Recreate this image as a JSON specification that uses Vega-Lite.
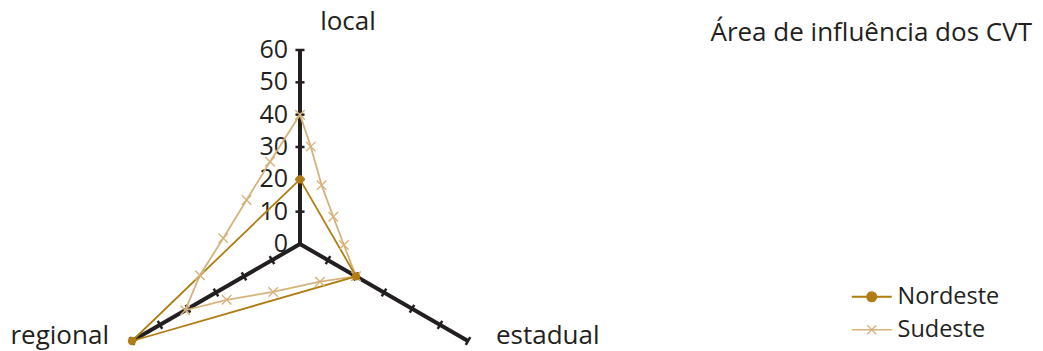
{
  "$schema": "https://vega.github.io/schema/vega-lite/v6.json",
  "width": 1043,
  "height": 351,
  "autosize": "none",
  "padding": 0,
  "background": "white",
  "config": {"view": {"stroke": null}, "font": "Open Sans"},
  "title": {
    "text": "Área de influência dos CVT",
    "anchor": "end",
    "orient": "top",
    "fontSize": 26,
    "fontWeight": "normal",
    "color": "#231f20",
    "font": "Open Sans",
    "offset": 0,
    "dx": -11,
    "dy": 67,
    "baseline": "alphabetic"
  },
  "datasets": {
    "eixos": [
      {"eixo": "local", "angulo": 90, "maximo": 60, "marcas": [10, 20, 30, 40, 50, 60]},
      {"eixo": "estadual", "angulo": -30, "maximo": 60, "marcas": [10, 20, 30, 40, 50, 60]},
      {"eixo": "regional", "angulo": 210, "maximo": 60, "marcas": [10, 20, 30, 40, 50, 60]}
    ],
    "escala": [
      {"valor": 0}, {"valor": 10}, {"valor": 20}, {"valor": 30}, {"valor": 40}, {"valor": 50}, {"valor": 60}
    ],
    "series": [
      {"serie": "Sudeste", "ordem": 1, "eixo": "local", "angulo": 90, "valor": 40},
      {"serie": "Sudeste", "ordem": 2, "eixo": null, "angulo": 83.7, "valor": 30.3},
      {"serie": "Sudeste", "ordem": 3, "eixo": null, "angulo": 69.8, "valor": 19.4},
      {"serie": "Sudeste", "ordem": 4, "eixo": null, "angulo": 39.2, "valor": 13.3},
      {"serie": "Sudeste", "ordem": 5, "eixo": null, "angulo": -1.3, "valor": 13.6},
      {"serie": "Sudeste", "ordem": 6, "eixo": "estadual", "angulo": -30, "valor": 20},
      {"serie": "Sudeste", "ordem": 7, "eixo": null, "angulo": -62.1, "valor": 13.2},
      {"serie": "Sudeste", "ordem": 8, "eixo": null, "angulo": -119.3, "valor": 17.0},
      {"serie": "Sudeste", "ordem": 9, "eixo": null, "angulo": -142.7, "valor": 28.5},
      {"serie": "Sudeste", "ordem": 10, "eixo": "regional", "angulo": 210, "valor": 41},
      {"serie": "Sudeste", "ordem": 11, "eixo": null, "angulo": 197.3, "valor": 32.4},
      {"serie": "Sudeste", "ordem": 12, "eixo": null, "angulo": 175.7, "valor": 23.8},
      {"serie": "Sudeste", "ordem": 13, "eixo": null, "angulo": 140.5, "valor": 21.4},
      {"serie": "Sudeste", "ordem": 14, "eixo": null, "angulo": 110.0, "valor": 27.1},
      {"serie": "Nordeste", "ordem": 1, "eixo": "local", "angulo": 90, "valor": 20},
      {"serie": "Nordeste", "ordem": 2, "eixo": "estadual", "angulo": -30, "valor": 20},
      {"serie": "Nordeste", "ordem": 3, "eixo": "regional", "angulo": 210, "valor": 60}
    ]
  },
  "encoding": {
    "x": {"field": "px", "type": "quantitative", "axis": null, "scale": {"domain": [-92.78, 229.8], "nice": false, "zero": false}},
    "y": {"field": "py", "type": "quantitative", "axis": null, "scale": {"domain": [-33.09, 75.46], "nice": false, "zero": false}}
  },
  "layer": [
    {
      "data": {"name": "eixos"},
      "transform": [
        {"calculate": "0", "as": "px"},
        {"calculate": "0", "as": "py"},
        {"calculate": "datum.maximo * cos(datum.angulo * PI / 180)", "as": "px2"},
        {"calculate": "datum.maximo * sin(datum.angulo * PI / 180)", "as": "py2"}
      ],
      "mark": {"type": "rule", "color": "#231f20", "strokeWidth": 4, "strokeCap": "butt"},
      "encoding": {"x2": {"field": "px2"}, "y2": {"field": "py2"}}
    },
    {
      "data": {"name": "eixos"},
      "transform": [
        {"flatten": ["marcas"], "as": ["valor"]},
        {"calculate": "datum.valor * cos(datum.angulo * PI / 180) - 1.4 * sin(datum.angulo * PI / 180)", "as": "px"},
        {"calculate": "datum.valor * sin(datum.angulo * PI / 180) + 1.4 * cos(datum.angulo * PI / 180)", "as": "py"},
        {"calculate": "datum.valor * cos(datum.angulo * PI / 180) + 1.4 * sin(datum.angulo * PI / 180)", "as": "px2"},
        {"calculate": "datum.valor * sin(datum.angulo * PI / 180) - 1.4 * cos(datum.angulo * PI / 180)", "as": "py2"}
      ],
      "mark": {"type": "rule", "color": "#231f20", "strokeWidth": 2.5, "strokeCap": "butt"},
      "encoding": {"x2": {"field": "px2"}, "y2": {"field": "py2"}}
    },
    {
      "data": {"name": "escala"},
      "transform": [
        {"calculate": "0", "as": "px"},
        {"calculate": "datum.valor", "as": "py"}
      ],
      "mark": {"type": "text", "align": "right", "baseline": "middle", "dx": -12, "dy": 0, "fontSize": 25, "color": "#231f20", "font": "Open Sans"},
      "encoding": {"text": {"field": "valor", "type": "quantitative"}}
    },
    {
      "data": {"name": "eixos"},
      "transform": [
        {"filter": "datum.eixo === 'local'"},
        {"calculate": "datum.maximo * cos(datum.angulo * PI / 180)", "as": "px"},
        {"calculate": "datum.maximo * sin(datum.angulo * PI / 180)", "as": "py"}
      ],
      "mark": {"type": "text", "align": "center", "baseline": "middle", "dx": 48, "dy": -28, "fontSize": 26, "color": "#231f20", "font": "Open Sans"},
      "encoding": {"text": {"field": "eixo"}}
    },
    {
      "data": {"name": "eixos"},
      "transform": [
        {"filter": "datum.eixo === 'estadual'"},
        {"calculate": "datum.maximo * cos(datum.angulo * PI / 180)", "as": "px"},
        {"calculate": "datum.maximo * sin(datum.angulo * PI / 180)", "as": "py"}
      ],
      "mark": {"type": "text", "align": "left", "baseline": "middle", "dx": 28, "dy": -5, "fontSize": 26, "color": "#231f20", "font": "Open Sans"},
      "encoding": {"text": {"field": "eixo"}}
    },
    {
      "data": {"name": "eixos"},
      "transform": [
        {"filter": "datum.eixo === 'regional'"},
        {"calculate": "datum.maximo * cos(datum.angulo * PI / 180)", "as": "px"},
        {"calculate": "datum.maximo * sin(datum.angulo * PI / 180)", "as": "py"}
      ],
      "mark": {"type": "text", "align": "right", "baseline": "middle", "dx": -23, "dy": -5, "fontSize": 26, "color": "#231f20", "font": "Open Sans"},
      "encoding": {"text": {"field": "eixo"}}
    },
    {
      "data": {"name": "series"},
      "transform": [
        {"calculate": "datum.valor * cos(datum.angulo * PI / 180)", "as": "px"},
        {"calculate": "datum.valor * sin(datum.angulo * PI / 180)", "as": "py"}
      ],
      "mark": {"type": "line", "interpolate": "linear-closed", "strokeWidth": 1.8},
      "encoding": {
        "order": {"field": "ordem", "type": "quantitative"},
        "strokeWidth": {"field": "serie", "type": "nominal", "scale": {"domain": ["Nordeste", "Sudeste"], "range": [2, 1.3]}, "legend": null},
        "color": {
          "field": "serie",
          "type": "nominal",
          "scale": {"domain": ["Nordeste", "Sudeste"], "range": ["#b07d12", "#d6b27c"]},
          "legend": {
            "title": null,
            "orient": "none",
            "legendX": 860,
            "legendY": 285,
            "padding": 0,
            "symbolSize": 400,
            "labelFontSize": 23.5,
            "labelFont": "Open Sans",
            "labelColor": "#231f20",
            "labelOffset": 14,
            "rowPadding": 8,
            "encode": {
              "symbols": {
                "update": {
                  "shape": {"signal": "datum.value === 'Nordeste' ? 'M-2,0H2M-0.45,0A0.45,0.45 0 1,0 0.45,0A0.45,0.45 0 1,0 -0.45,0Z' : 'M-2,0H2M-0.45,-0.45L0.45,0.45M-0.45,0.45L0.45,-0.45'"},
                  "fill": {"signal": "datum.value === 'Nordeste' ? '#b07d12' : 'transparent'"},
                  "strokeWidth": {"signal": "datum.value === 'Nordeste' ? 2 : 1.3"}
                }
              }
            }
          }
        }
      }
    },
    {
      "data": {"name": "series"},
      "transform": [
        {"filter": "datum.serie === 'Sudeste'"},
        {"calculate": "datum.valor * cos(datum.angulo * PI / 180)", "as": "px"},
        {"calculate": "datum.valor * sin(datum.angulo * PI / 180)", "as": "py"}
      ],
      "mark": {"type": "point", "shape": "M-1,-1L1,1M-1,1L1,-1", "filled": false, "size": 90, "stroke": "#d6b27c", "strokeWidth": 1.4, "opacity": 1}
    },
    {
      "data": {"name": "series"},
      "transform": [
        {"filter": "datum.serie === 'Nordeste'"},
        {"calculate": "datum.valor * cos(datum.angulo * PI / 180)", "as": "px"},
        {"calculate": "datum.valor * sin(datum.angulo * PI / 180)", "as": "py"}
      ],
      "mark": {"type": "point", "shape": "circle", "filled": true, "size": 70, "color": "#b07d12", "opacity": 1}
    }
  ]
}
